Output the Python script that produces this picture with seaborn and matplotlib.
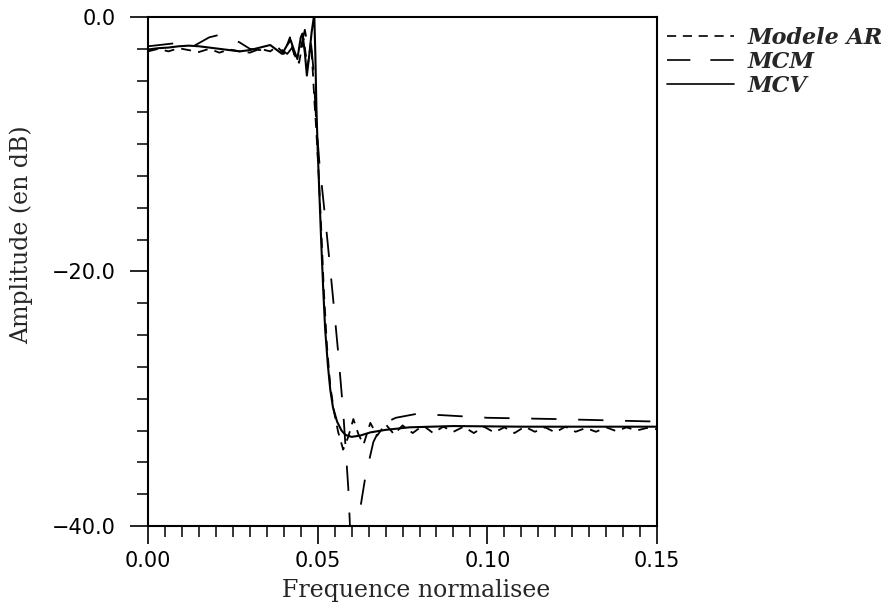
import matplotlib
matplotlib.use("Agg")
import matplotlib.pyplot as plt
from matplotlib.ticker import MultipleLocator, FuncFormatter
import seaborn as sns

# Normalised frequency / amplitude (dB) for each estimator
freq_mcv = [0.000, 0.003, 0.006, 0.009, 0.012, 0.015, 0.018, 0.021, 0.024, 0.027,
            0.030, 0.033, 0.036, 0.038, 0.0395, 0.041, 0.042, 0.043, 0.044, 0.045,
            0.0455, 0.0462, 0.0468, 0.0475, 0.0482, 0.0488, 0.0490, 0.0493, 0.0496,
            0.0500, 0.0505, 0.0510, 0.0516, 0.0522, 0.0530, 0.0537, 0.0545, 0.0557,
            0.0570, 0.0582, 0.0600, 0.0625, 0.0655, 0.0700, 0.0770, 0.0900, 0.1100,
            0.1300, 0.1500]
amp_mcv = [-2.55, -2.45, -2.4, -2.3, -2.25, -2.3, -2.4, -2.5, -2.6, -2.7,
           -2.6, -2.4, -2.2, -2.6, -2.9, -2.2, -1.8, -2.6, -3.3, -1.6,
           -1.3, -2.8, -4.6, -3.0, -1.2, -0.1, 0.0, -3.0, -7.0,
           -10.5, -14.0, -17.5, -21.3, -24.6, -27.4, -29.3, -30.7, -31.8,
           -32.5, -32.85, -33.0, -32.9, -32.65, -32.45, -32.25, -32.15, -32.2,
           -32.2, -32.2]

freq_mcm = [0.000, 0.005, 0.010, 0.014, 0.018, 0.021, 0.024, 0.027, 0.030, 0.033,
            0.036, 0.039, 0.041, 0.0425, 0.0440, 0.0452, 0.0462, 0.0472, 0.0480,
            0.0487, 0.0495, 0.0505, 0.0515, 0.0525, 0.0535, 0.0547, 0.0560, 0.0575,
            0.0590, 0.0605, 0.0620, 0.0640, 0.0664, 0.0690, 0.0730, 0.0790, 0.0870,
            0.1000, 0.1200, 0.1500]
amp_mcm = [-2.3, -2.15, -2.0, -2.2, -1.6, -1.4, -1.6, -2.0, -2.5, -2.6,
           -2.3, -2.5, -2.9, -2.4, -3.6, -2.2, -1.0, -2.5, -2.0,
           -4.0, -8.0, -11.5, -14.0, -16.6, -19.3, -22.6, -26.3, -31.0,
           -37.0, -46.0, -39.5, -36.2, -33.4, -32.0, -31.5, -31.2, -31.3,
           -31.5, -31.6, -31.8]

freq_ar = [0.000, 0.003, 0.006, 0.009, 0.012, 0.015, 0.018, 0.021, 0.024, 0.027,
           0.030, 0.033, 0.036, 0.038, 0.040, 0.0418, 0.043, 0.0445, 0.0458, 0.0470,
           0.0480, 0.0486, 0.0490, 0.0496, 0.0503, 0.0510, 0.0518, 0.0527, 0.0537,
           0.0548, 0.0560, 0.0575, 0.0590, 0.0605, 0.0620, 0.0635, 0.0655, 0.0675,
           0.0700, 0.0725, 0.0750, 0.0780, 0.0810, 0.0840, 0.0870, 0.0900, 0.0930,
           0.0960, 0.0990, 0.1020, 0.1050, 0.1080, 0.1110, 0.1140, 0.1170, 0.1200,
           0.1230, 0.1260, 0.1290, 0.1320, 0.1350, 0.1380, 0.1410, 0.1440, 0.1470,
           0.1500]
amp_ar = [-2.7, -2.5, -2.7, -2.45, -2.6, -2.75, -2.5, -2.8, -2.55, -2.7,
          -2.8, -2.5, -2.7, -2.3, -2.9, -1.6, -2.9, -3.6, -1.7, -3.9,
          -2.0, -4.5, -6.5, -9.0, -12.5, -16.5, -21.5, -25.8, -29.0,
          -31.0, -32.6, -34.0, -33.0, -31.6, -32.8, -33.6, -31.9, -32.9,
          -32.0, -32.8, -32.1, -32.7, -32.1, -32.7, -32.2, -32.6, -32.2,
          -32.7, -32.2, -32.65, -32.25, -32.7, -32.2, -32.6, -32.25, -32.65,
          -32.2, -32.6, -32.3, -32.6, -32.25, -32.55, -32.25, -32.5, -32.3,
          -32.4]

series_labels = ["Modele AR", "MCM", "MCV"]

sns.set_style("ticks")
plt.rcParams["font.family"] = ["DejaVu Sans"]

fig = plt.figure(figsize=(8.92, 6.08), dpi=100)
ax = fig.add_axes([0.166, 0.135, 0.5706, 0.837])

sns.lineplot(x=freq_ar, y=amp_ar, ax=ax, color="black", lw=1.3,
             linestyle=(0, (5.5, 4)), label=series_labels[0])
sns.lineplot(x=freq_mcm, y=amp_mcm, ax=ax, color="black", lw=1.3,
             linestyle=(0, (14, 12)), label=series_labels[1])
sns.lineplot(x=freq_mcv, y=amp_mcv, ax=ax, color="black", lw=1.5,
             linestyle="-", label=series_labels[2])

ax.set_xlim(0, 0.15)
ax.set_ylim(-40, 0)

ax.xaxis.set_major_locator(MultipleLocator(0.05))
ax.xaxis.set_minor_locator(MultipleLocator(0.005))
ax.yaxis.set_major_locator(MultipleLocator(20))
ax.yaxis.set_minor_locator(MultipleLocator(2.5))
ax.xaxis.set_major_formatter(FuncFormatter(lambda v, p: f"{v:.2f}"))
ax.yaxis.set_major_formatter(
    FuncFormatter(lambda v, p: f"{v:.1f}".replace("-", "\u2212")))

for side in ["left", "right", "top", "bottom"]:
    ax.spines[side].set_visible(True)
    ax.spines[side].set_color("black")
    ax.spines[side].set_linewidth(1.5)

ax.tick_params(axis="both", which="major", direction="out", length=13,
               width=1.2, colors="black", labelsize=15)
ax.tick_params(axis="both", which="minor", direction="out", length=8,
               width=1.1, colors="black")
ax.tick_params(axis="y", which="major", pad=10)
ax.tick_params(axis="x", which="major", pad=5)

ax.set_xlabel("Frequence normalisee", family="DejaVu Serif", fontsize=17)
ax.set_ylabel("Amplitude (en dB)", family="DejaVu Serif", fontsize=17)
ax.xaxis.set_label_coords(0.527, -0.105)
ax.yaxis.set_label_coords(-0.226, 0.573)

leg = ax.legend(loc="upper left", bbox_to_anchor=(1.02, 0.981), frameon=False,
                prop={"family": "DejaVu Serif", "weight": "bold",
                      "style": "italic", "size": 16},
                handlelength=3.0, handletextpad=0.6, labelspacing=0.1,
                borderaxespad=0.0, borderpad=0.0)
for line in leg.get_lines():
    line.set_linewidth(1.2)

ax.grid(False)
fig.savefig("out.png", dpi=100, facecolor="white")
